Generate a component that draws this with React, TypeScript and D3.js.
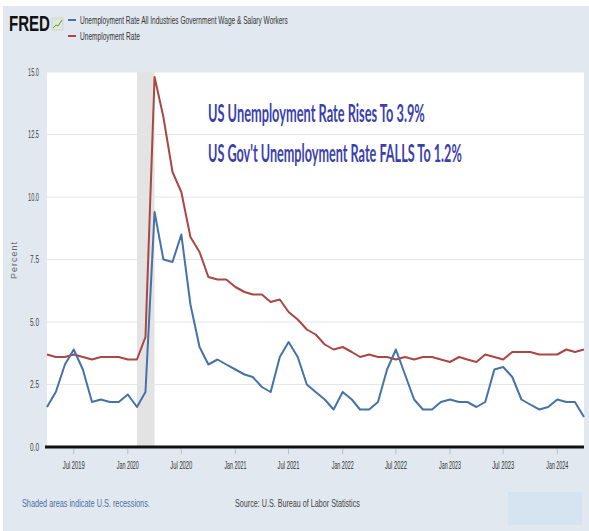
import React, { useLayoutEffect, useRef, useState } from 'react';
import * as d3 from 'd3';

const startMonth = new Date(2019, 3, 1);
const govRate = [
  1.6, 2.2, 3.3, 3.9, 3.1, 1.8, 1.9, 1.8, 1.8,
  2.1, 1.6, 2.2, 9.4, 7.5, 7.4, 8.5, 5.7, 4.0, 3.3, 3.5, 3.3,
  3.1, 2.9, 2.8, 2.4, 2.2, 3.6, 4.2, 3.6, 2.5, 2.2, 1.9, 1.5,
  2.2, 1.9, 1.5, 1.5, 1.8, 3.1, 3.9, 2.9, 1.9, 1.5, 1.5, 1.8,
  1.9, 1.8, 1.8, 1.6, 1.8, 3.1, 3.2, 2.8, 1.9, 1.7, 1.5, 1.6,
  1.9, 1.8, 1.8, 1.2,
];
const unRate = [
  3.7, 3.6, 3.6, 3.7, 3.6, 3.5, 3.6, 3.6, 3.6,
  3.5, 3.5, 4.4, 14.8, 13.2, 11.0, 10.2, 8.4, 7.8, 6.8, 6.7, 6.7,
  6.4, 6.2, 6.1, 6.1, 5.8, 5.9, 5.4, 5.1, 4.7, 4.5, 4.1, 3.9,
  4.0, 3.8, 3.6, 3.7, 3.6, 3.6, 3.5, 3.6, 3.5, 3.6, 3.6, 3.5,
  3.4, 3.6, 3.5, 3.4, 3.7, 3.6, 3.5, 3.8, 3.8, 3.8, 3.7, 3.7,
  3.7, 3.9, 3.8, 3.9,
];
const yTicks = [0, 2.5, 5, 7.5, 10, 12.5, 15];
const xTickLabels = ['Jul 2019', 'Jan 2020', 'Jul 2020', 'Jan 2021', 'Jul 2021', 'Jan 2022', 'Jul 2022', 'Jan 2023', 'Jul 2023', 'Jan 2024'];
const xTickDates = xTickLabels.map((l) => d3.timeParse('%b %Y')(l) as Date);
const recessionStart = new Date(2020, 1, 1);
const recessionEnd = new Date(2020, 3, 1);
const seriesNames = ['Unemployment Rate All Industries Government Wage & Salary Workers', 'Unemployment Rate'];
const annotations = ['US Unemployment Rate Rises To 3.9%', "US Gov't Unemployment Rate FALLS To 1.2%"];

const BLUE = '#4572a7';
const RED = '#aa4643';
const SANS = '"Liberation Sans", Arial, sans-serif';

function FitText(props: any) {
  const { x, y, width, anchor = 'start', children, ...rest } = props;
  const ref = useRef<SVGTextElement>(null);
  const [s, setS] = useState(1);
  useLayoutEffect(() => {
    if (ref.current) {
      const w = ref.current.getComputedTextLength();
      if (w > 0) setS(width / w);
    }
  }, [width, children]);
  return (
    <text ref={ref} transform={`translate(${x},${y}) scale(${s},1)`} textAnchor={anchor} {...rest}>
      {children}
    </text>
  );
}

export default function App() {
  const W = 589, H = 531;
  const L = 47, R = 584, T = 72, B = 447;
  const dates = govRate.map((_, i) => d3.timeMonth.offset(startMonth, i));
  const x = d3.scaleTime().domain([dates[0], dates[dates.length - 1]]).range([L, R]);
  const y = d3.scaleLinear().domain([0, 15]).range([B, T]);
  const line = d3.line<number>().x((_, i) => x(dates[i])).y((v) => y(v));

  return (
    <svg width={W} height={H} style={{ position: 'absolute', left: 0, top: 0 }}>
      <rect x={0} y={0} width={W} height={H} fill="#ffffff" />
      <rect x={3} y={6} width={W - 3} height={H - 6} fill="#e1e8f0" />
      {/* header */}
      <FitText x={9} y={31} width={41} fontFamily={SANS} fontWeight="bold" fontSize={22} fill="#111">FRED</FitText>
      <rect x={52} y={18} width={11} height={12} fill="#dfe8d8" stroke="#b9c8b0" strokeWidth={0.5} />
      <polyline points="53,28 56,25 58,26 62,20" fill="none" stroke="#5a9a3a" strokeWidth={1} />
      <line x1={68} x2={76} y1={20} y2={20} stroke={BLUE} strokeWidth={2} />
      <FitText x={80} y={24} width={208} fontFamily={SANS} fontSize={11} fill="#333">{seriesNames[0]}</FitText>
      <line x1={68} x2={76} y1={36} y2={36} stroke={RED} strokeWidth={2} />
      <FitText x={80} y={40} width={60} fontFamily={SANS} fontSize={11} fill="#333">{seriesNames[1]}</FitText>

      {/* plot area */}
      <rect x={L} y={T} width={R - L} height={B - T} fill="#ffffff" />
      <rect x={x(recessionStart)} y={T} width={x(recessionEnd) - x(recessionStart)} height={B - T} fill="#e3e3e3" />
      {yTicks.filter((t) => t > 0).map((t) => (
        <line key={t} x1={L} x2={R} y1={y(t)} y2={y(t)} stroke="#e6e6e6" strokeWidth={1} />
      ))}
      {yTicks.map((t) => (
        <FitText key={'l' + t} x={39} y={y(t) + 3.5} width={t >= 10 ? 11 : 9} anchor="end" fontFamily={SANS} fontSize={10} fill="#444">{t.toFixed(1)}</FitText>
      ))}
      <text transform={`translate(17,260) rotate(-90)`} textAnchor="middle" fontFamily={SANS} fontSize={9} fill="#666" letterSpacing={1}>Percent</text>

      <path d={line(unRate) || ''} fill="none" stroke={RED} strokeWidth={2} strokeLinejoin="round" />
      <path d={line(govRate) || ''} fill="none" stroke={BLUE} strokeWidth={2} strokeLinejoin="round" />

      <line x1={L - 2} x2={R} y1={B} y2={B} stroke="#111" strokeWidth={3} />
      {xTickDates.map((d, i) => (
        <g key={i}>
          <line x1={x(d)} x2={x(d)} y1={B + 2} y2={B + 7} stroke="#bbb" strokeWidth={1} />
          <FitText x={x(d)} y={469} width={22} anchor="middle" fontFamily={SANS} fontSize={10} fill="#333">{xTickLabels[i]}</FitText>
        </g>
      ))}

      {/* annotations */}
      <FitText x={208} y={122} width={217} fontFamily='Lato, "Open Sans", sans-serif' fontWeight="bold" fontSize={24} fill="#3b3fae">{annotations[0]}</FitText>
      <FitText x={208} y={162} width={254} fontFamily='Lato, "Open Sans", sans-serif' fontWeight="bold" fontSize={24} fill="#3b3fae">{annotations[1]}</FitText>

      {/* footer */}
      <rect x={508} y={492} width={74} height={33} fill="#d6e4f2" />
      <FitText x={22} y={507} width={128} fontFamily={SANS} fontSize={11} fill="#4a6fa5">Shaded areas indicate U.S. recessions.</FitText>
      <FitText x={235} y={507} width={125} fontFamily={SANS} fontSize={11} fill="#444">Source: U.S. Bureau of Labor Statistics</FitText>
    </svg>
  );
}
